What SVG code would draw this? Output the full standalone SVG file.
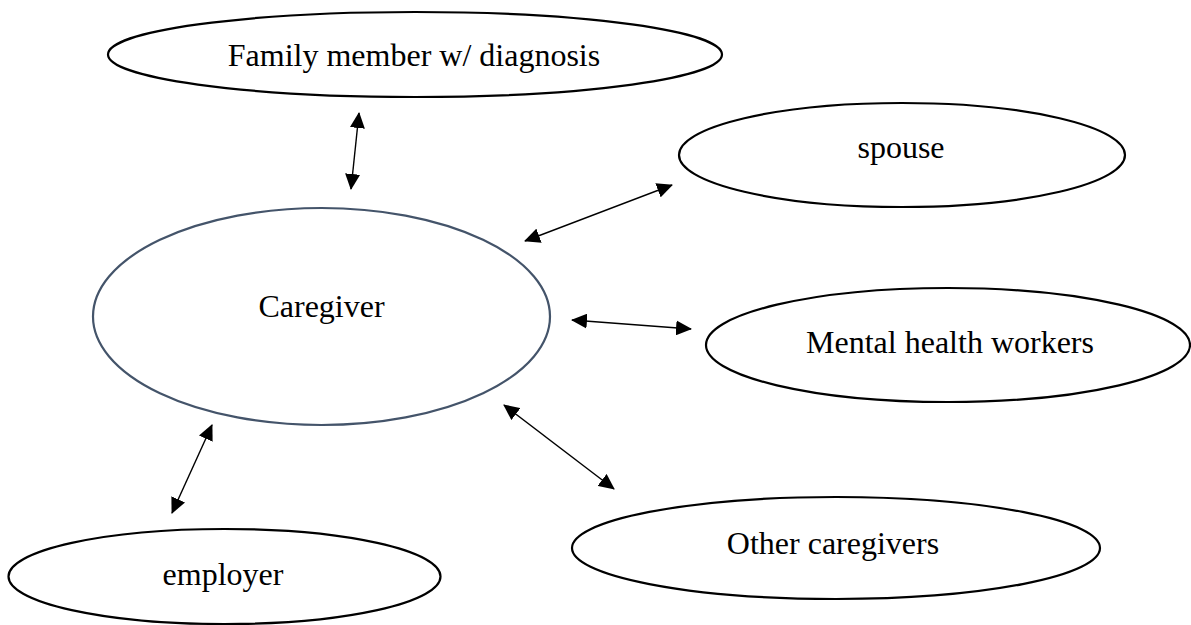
<svg xmlns="http://www.w3.org/2000/svg" width="1191" height="625" viewBox="0 0 1191 625">
<style>
.node ellipse{fill:#fff;stroke:#000;stroke-width:2.2}
.node text{font-family:"Liberation Serif","Times New Roman",serif;font-size:32px;fill:#000;text-anchor:middle}
#caregiver ellipse{stroke:#44546a;stroke-width:2.2}
.conn line{stroke:#000;stroke-width:1.4;marker-start:url(#ah);marker-end:url(#ah)}
</style>
<defs>
<marker id="ah" viewBox="0 0 16 15" refX="15" refY="7.5" markerWidth="16" markerHeight="15" markerUnits="userSpaceOnUse" orient="auto-start-reverse">
<path d="M0,0 L16,7.5 L0,15 Z" fill="#000"/>
</marker>
</defs>
<rect width="1191" height="625" fill="#fff"/>
<g id="family" class="node">
<ellipse cx="415" cy="54.5" rx="307" ry="42.5"/>
<text x="414" y="66">Family member w/ diagnosis</text>
</g>
<g id="caregiver" class="node">
<ellipse cx="321.5" cy="316.5" rx="228.5" ry="108.5"/>
<text x="321.5" y="317">Caregiver</text>
</g>
<g id="spouse" class="node">
<ellipse cx="902" cy="155" rx="223" ry="52"/>
<text x="901" y="158">spouse</text>
</g>
<g id="mental" class="node">
<ellipse cx="948" cy="345" rx="242" ry="57"/>
<text x="950" y="353">Mental health workers</text>
</g>
<g id="other" class="node">
<ellipse cx="836" cy="548" rx="264" ry="51"/>
<text x="833" y="554">Other caregivers</text>
</g>
<g id="employer" class="node">
<ellipse cx="224.5" cy="576.5" rx="216" ry="47.5"/>
<text x="223" y="585">employer</text>
</g>
<g id="connectors" class="conn">
<line x1="359" y1="113" x2="351" y2="189"/>
<line x1="525" y1="241" x2="672" y2="185"/>
<line x1="572" y1="320" x2="691" y2="329"/>
<line x1="504" y1="405" x2="614" y2="489"/>
<line x1="212" y1="425" x2="172" y2="513"/>
</g>
</svg>
